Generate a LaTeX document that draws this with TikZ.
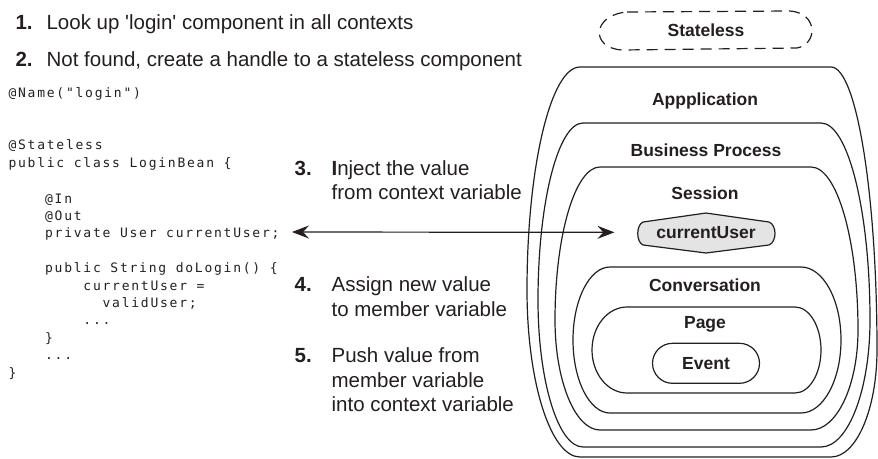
\documentclass[tikz,border=0pt]{standalone}
\usepackage{fontspec}
\newfontfamily\hv{Liberation Sans}
\newfontfamily\codefont[LetterSpace=13.5]{DejaVu Sans Mono}
\usetikzlibrary{arrows.meta}
\definecolor{ink}{HTML}{231F20}
\definecolor{cugray}{HTML}{E4E4E4}
\newcommand\stepnum[2]{\makebox[#1][l]{\textbf{#2}}}
\newcommand\pad[1]{\phantom{#1}}

\begin{document}
\begin{tikzpicture}[x=1pt, y=-1pt, ink, line width=1.2pt,
  >={Stealth[length=17pt,width=13pt,inset=6pt]},
  item/.style={anchor=base west, inner sep=0pt, font=\hv\fontsize{20.5}{24.5}\selectfont},
  ctx/.style={anchor=base, inner sep=0pt, font=\hv\bfseries\fontsize{17.5}{20}\selectfont}]

\useasboundingbox (0,0) rectangle (878,458);

% Steps
\node[item] (s1) at (15,29.3) {\stepnum{31pt}{1.}Look up \textquotesingle login\textquotesingle{} component in all contexts};
\node[item] (s2) at (15,66.7) {\stepnum{31pt}{2.}Not found, create a handle to a stateless component};
\node[item] (s3) at (294,175) {\stepnum{37pt}{3.}\parbox[t]{220pt}{\textbf{I}nject the value\\from context variable}};
\node[item] (s4) at (294,291.5) {\stepnum{37pt}{4.}\parbox[t]{220pt}{Assign new value\\to member variable}};
\node[item] (s5) at (294,362.7) {\stepnum{37pt}{5.}\parbox[t]{220pt}{Push value from\\member variable\\into context variable}};

% Code
\node[anchor=base west, inner sep=0pt, font=\codefont\fontsize{13}{17.4}\selectfont] (code) at (8,97.5) {\parbox[t]{280pt}{%
@Name("login")\\[34.8pt]
@Stateless\\
public class LoginBean \{\\[18.6pt]
\pad{xxxx}@In\\
\pad{xxxx}@Out\\
\pad{xxxx}private User currentUser;\\[17.4pt]
\pad{xxxx}public String doLogin() \{\\
\pad{xxxxxxxx}currentUser =\\
\pad{xxxxxxxxxx}validUser;\\
\pad{xxxxxxxx}...\\
\pad{xxxx}\}\\
\pad{xxxx}...\\
\}}};

% Contexts, outside in
\draw (580,67) -- (831,67) arc[start angle=90, end angle=0, x radius=46pt, y radius=283pt]
  arc[start angle=0, end angle=-90, x radius=46pt, y radius=107pt] -- (580,457)
  arc[start angle=270, end angle=180, x radius=53pt, y radius=167pt]
  arc[start angle=180, end angle=90, x radius=53pt, y radius=223pt] -- cycle;
\draw (583,123) -- (821,123) arc[start angle=90, end angle=0, x radius=49pt, y radius=197pt]
  arc[start angle=0, end angle=-90, x radius=49pt, y radius=127pt] -- (583,447)
  arc[start angle=270, end angle=180, x radius=45pt, y radius=147pt]
  arc[start angle=180, end angle=90, x radius=45pt, y radius=177pt] -- cycle;
\draw (600,167) -- (811,167) arc[start angle=90, end angle=0, x radius=47pt, y radius=163pt]
  arc[start angle=0, end angle=-90, x radius=47pt, y radius=100pt] -- (600,430)
  arc[start angle=270, end angle=180, x radius=45pt, y radius=110pt]
  arc[start angle=180, end angle=90, x radius=45pt, y radius=153pt] -- cycle;
\draw (610,267) -- (801,267) arc[start angle=90, end angle=-90, x radius=40pt, y radius=73pt]
  -- (610,413) arc[start angle=270, end angle=90, x radius=37pt, y radius=73pt] -- cycle;
\draw (627,307) -- (795,307) arc[start angle=90, end angle=-90, x radius=26pt, y radius=43pt]
  -- (627,393) arc[start angle=270, end angle=90, x radius=35pt, y radius=43pt] -- cycle;

\node[ctx] (app) at (705,105) {Appplication};
\node[ctx] (bp) at (706,156) {Business Process};
\node[ctx] (session) at (705,199) {Session};
\node[ctx] (conv) at (705,291) {Conversation};
\node[ctx] (page) at (705,328.3) {Page};
\node[ctx, anchor=center, draw, rounded corners=20pt, minimum width=107pt, minimum height=40pt] (event) at (706,363.3) {Event};

% Stateless
\draw[dash pattern=on 11pt off 7pt] (627,12) -- (790,11) .. controls (818,13) and (818,44) .. (797,48)
  -- (622,50) .. controls (590,48) and (592,15) .. (627,12) -- cycle;
\node[ctx] (stateless) at (706,36.7) {Stateless};

% currentUser
\draw[fill=cugray] (643,222) -- (706,213) -- (769,222) .. controls (777,225) and (777,242) .. (769,245)
  -- (706,253) -- (643,245) .. controls (636,242) and (636,225) .. (643,222) -- cycle;
\node[ctx, minimum width=140pt] (cu) at (706,238.3) {currentUser};

% Injection / outjection
\coordinate (fld) at (292,232);
\draw[<->, shorten >=21pt] (fld) -- (cu.west);

\end{tikzpicture}
\end{document}
